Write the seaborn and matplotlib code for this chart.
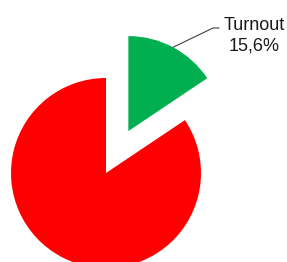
import numpy as np
import matplotlib
matplotlib.use("Agg")
import matplotlib.pyplot as plt
import seaborn as sns

sns.set_style("white")
plt.rcParams['font.family'] = ['Liberation Sans', 'DejaVu Sans']

categories = ["Turnout", "Other"]
values = [15.6, 84.4]
labels = ["Turnout\n15,6%", ""]
colors = ["#00B050", "#FF0000"]
explode = [0.5, 0.0]

W, H = 287, 262
fig = plt.figure(figsize=(W / 100, H / 100), dpi=100)
ax = fig.add_axes([0, 0, 1, 1])
cx, cy, R = 106, 173, 95  # pixel centre and radius of the pie

wedges, _ = ax.pie(values, colors=colors, explode=explode, startangle=90,
                   counterclock=False, radius=1.0,
                   wedgeprops=dict(linewidth=0))
ax.set_xlim(-cx / R, (W - cx) / R)
ax.set_ylim(-(H - cy) / R, cy / R)
ax.set_aspect("equal")
ax.axis("off")

# leader line from green wedge mid-arc to label
w = wedges[0]
mid = np.deg2rad((w.theta1 + w.theta2) / 2)
c = w.center
ax_pt = (c[0] + w.r * np.cos(mid), c[1] + w.r * np.sin(mid))
elbow = ((213 - cx) / R, (cy - 28) / R)
end = ((219 - cx) / R, (cy - 28) / R)
ax.plot([ax_pt[0], elbow[0], end[0]], [ax_pt[1], elbow[1], end[1]],
        color="#404040", lw=0.8)
ax.text((254 - cx) / R, (cy - 36) / R, labels[0], ha="center", va="center",
        fontsize=13, color="#1a1a1a", linespacing=1.3)

fig.savefig("out.png", dpi=100)
